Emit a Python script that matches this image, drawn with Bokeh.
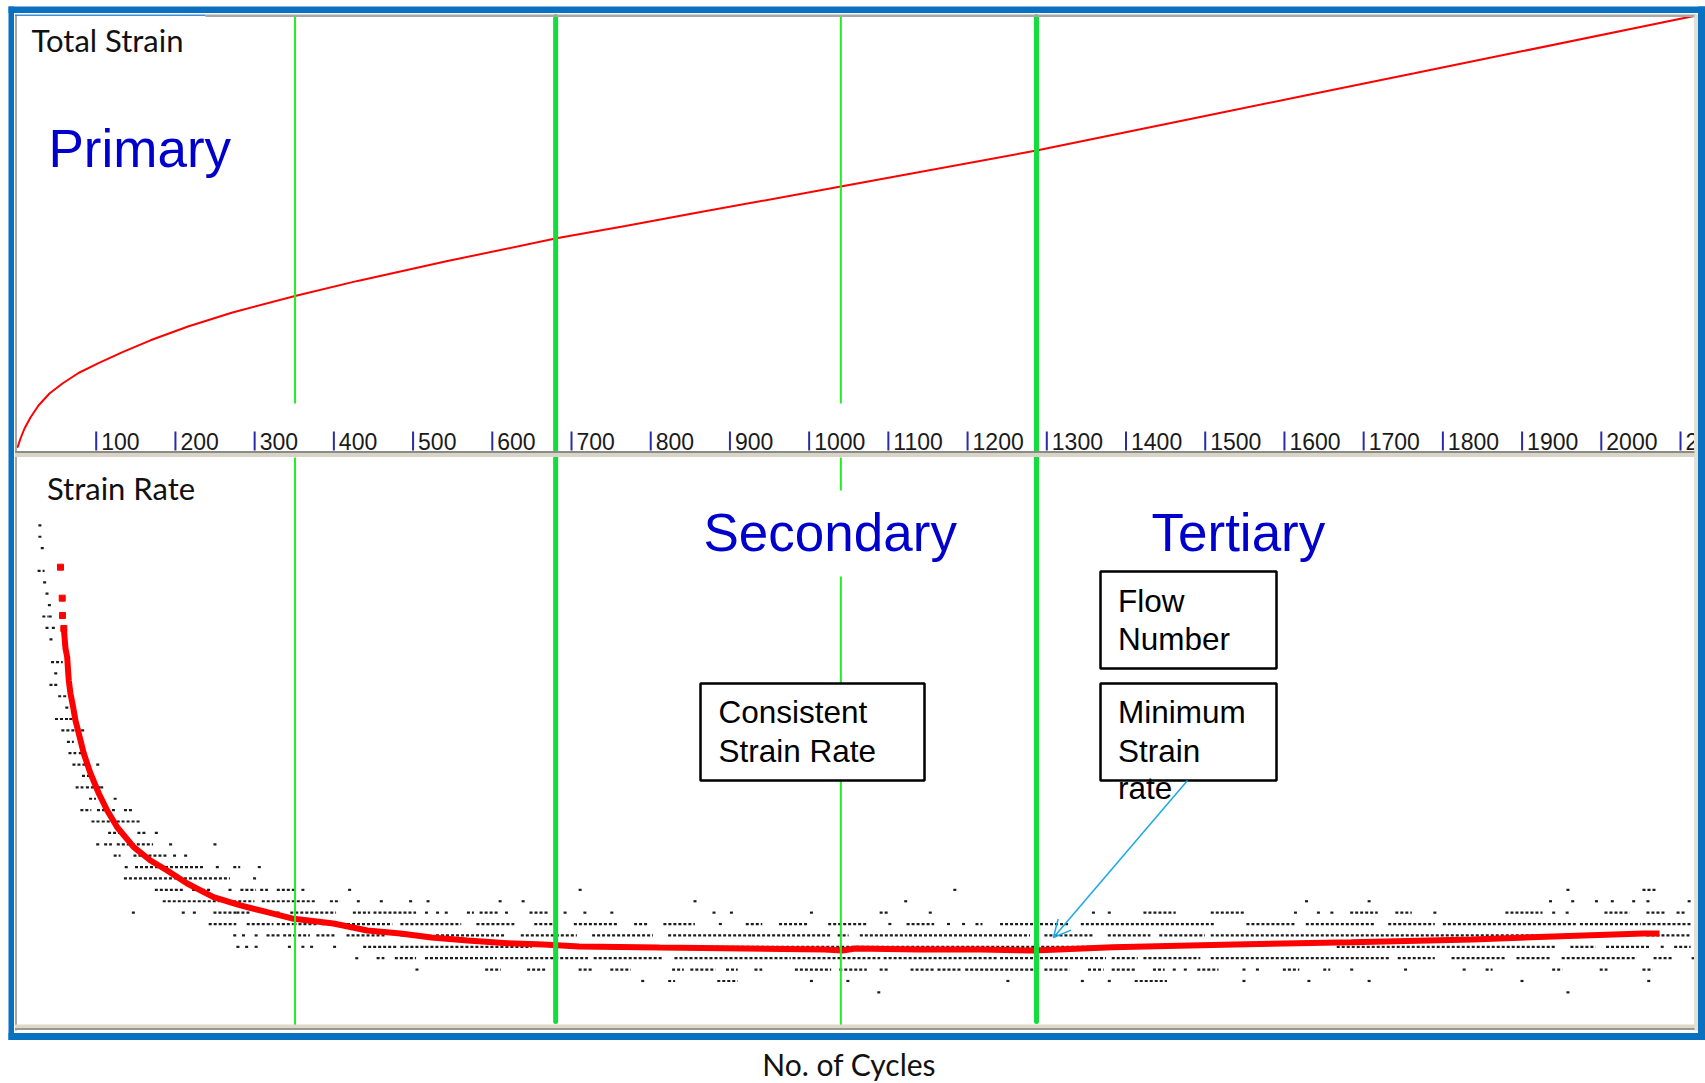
from bokeh.plotting import figure
from bokeh.models import Range1d, BoxAnnotation, Label, Arrow, OpenHead, FixedTicker
from bokeh.core.properties import value
from bokeh.embed import file_html
from bokeh.resources import INLINE

# ---------------- data ----------------
# Total strain (%) vs cycles (top panel)
strain_cycles = [0, 1.1, 4.4, 9.5, 17, 27.1, 41, 57.4, 77.6, 102.9, 133.2, 168.5, 215.9,
                 272, 351, 430, 542, 681, 768, 863, 1040, 1287, 1489, 1620, 1764, 1901,
                 2120]
strain_pct = [0.0, 0.005, 0.045, 0.095, 0.15, 0.21, 0.27, 0.32, 0.3725, 0.422, 0.477,
              0.536, 0.605, 0.675, 0.7575, 0.833, 0.931, 1.046, 1.108, 1.177, 1.305,
              1.485, 1.649, 1.755, 1.871, 1.982, 2.16]

# Smoothed strain rate vs cycles (bottom panel, red)
rate_cycles = [54.9, 57.1, 57.4, 59.1, 61.2, 63.4, 64.6, 65.4, 67.5, 70.9, 73.8, 78.0,
               84.3, 92.8, 103.3, 113.9, 126.5, 147.4, 168.5, 189.6, 214.9, 248.1,
               282.1, 315.9, 349.4, 399.5, 442.1, 484.1, 523.3, 568.7, 619.2, 664.7,
               709.6, 811.1, 1019.4, 1042.1, 1058.5, 1138.1, 1216.3, 1284.5, 1383.0,
               1537.0, 1684.7, 1837.4, 1911.4, 2053.3, 2073.5]
rate_values = [40.33, 37.61, 36.09, 34.95, 33.19, 32.42, 31.11, 30.38, 29.24, 28.04,
               26.87, 25.73, 23.97, 22.22, 20.46, 18.97, 17.50, 15.75, 14.58, 13.70,
               12.56, 11.36, 10.63, 10.04, 9.46, 9.05, 8.43, 8.17, 7.82, 7.55, 7.32,
               7.20, 7.03, 6.94, 6.76, 6.67, 6.85, 6.76, 6.76, 6.67, 6.97, 7.20, 7.40,
               7.64, 7.84, 8.17, 8.17]

# Raw strain-rate readings (black), as runs: (rate level, first cycle, last cycle)
black_runs = [
    (44, 27, 27), (43, 27, 27), (42, 30, 30), (40, 26, 31), (39, 33, 33), (38, 36, 36),
    (37, 39, 39), (36, 32, 36), (36, 40, 42), (35, 36, 36), (35, 44, 44), (34, 41, 41),
    (32, 43, 54), (31, 47, 47), (30, 41, 41), (30, 47, 47), (29, 52, 59), (28, 61, 61),
    (27, 48, 63), (27, 66, 66), (26, 56, 76), (26, 81, 81), (25, 63, 68),
    (24, 65, 71), (24, 78, 78), (24, 82, 82), (23, 70, 82), (23, 100, 100), (22, 82, 89),
    (21, 74, 80), (21, 87, 95), (21, 101, 101), (21, 105, 105), (20, 91, 96), (20, 122, 122),
    (19, 80, 90), (19, 101, 120), (19, 135, 143),
    (18, 94, 101), (18, 107, 127), (18, 132, 151),
    (17, 115, 130), (17, 152, 160), (17, 174, 174),
    (16, 100, 100), (16, 110, 116), (16, 126, 168), (16, 192, 192), (16, 248, 248),
    (15, 122, 127), (15, 147, 185), (15, 197, 197), (15, 211, 211),
    (14, 136, 136), (14, 149, 231), (14, 251, 251), (14, 273, 278), (14, 304, 304),
    (13, 135, 265), (13, 298, 298),
    (12, 174, 206), (12, 221, 240), (12, 267, 267), (12, 282, 298), (12, 307, 313),
    (12, 328, 349), (12, 359, 359), (12, 418, 418), (12, 709, 709), (12, 1182, 1182),
    (12, 1956, 1956), (12, 2052, 2066),
    (11, 184, 252), (11, 273, 296), (11, 309, 374), (11, 395, 404), (11, 429, 429),
    (11, 458, 458), (11, 495, 495), (11, 517, 517), (11, 608, 608), (11, 637, 637),
    (11, 854, 854), (11, 1120, 1120), (11, 1626, 1626), (11, 1705, 1705), (11, 1934, 1934),
    (11, 1962, 1962), (11, 1992, 1992), (11, 2012, 2012), (11, 2039, 2039), (11, 2057, 2057),
    (11, 2109, 2109),
    (10, 145, 145), (10, 208, 208), (10, 222, 222), (10, 248, 273), (10, 277, 290),
    (10, 315, 328), (10, 345, 399), (10, 424, 442), (10, 450, 500), (10, 515, 515),
    (10, 529, 529), (10, 540, 540), (10, 568, 573), (10, 584, 605), (10, 616, 616),
    (10, 647, 667), (10, 678, 678), (10, 690, 690), (10, 715, 715), (10, 749, 749),
    (10, 878, 878), (10, 900, 900), (10, 1001, 1001), (10, 1089, 1097), (10, 1151, 1151),
    (10, 1357, 1357), (10, 1377, 1377), (10, 1422, 1459), (10, 1507, 1547), (10, 1612, 1612),
    (10, 1641, 1641), (10, 1658, 1658), (10, 1683, 1714), (10, 1740, 1757), (10, 1788, 1788),
    (10, 1879, 1922), (10, 1938, 1938), (10, 1955, 1955), (10, 2004, 2032), (10, 2057, 2077),
    (10, 2095, 2103),
    (9, 242, 273), (9, 290, 320), (9, 328, 345), (9, 349, 376), (9, 385, 470), (9, 484, 557),
    (9, 580, 624), (9, 653, 678), (9, 703, 754), (9, 779, 793), (9, 816, 852), (9, 886, 886),
    (9, 920, 937), (9, 962, 996), (9, 1024, 1069), (9, 1100, 1100), (9, 1123, 1154),
    (9, 1174, 1174), (9, 1193, 1193), (9, 1210, 1215), (9, 1241, 1325), (9, 1343, 1507),
    (9, 1552, 1609), (9, 1627, 1711), (9, 1731, 1786), (9, 1800, 1964), (9, 1973, 2046),
    (9, 2052, 2109),
    (8, 273, 273), (8, 284, 284), (8, 300, 300), (8, 315, 328), (8, 336, 366), (8, 378, 399),
    (8, 416, 462), (8, 484, 500), (8, 529, 613), (8, 636, 703), (8, 726, 799), (8, 822, 923),
    (8, 928, 1024), (8, 1036, 1046), (8, 1064, 1120), (8, 1126, 1275), (8, 1297, 1354),
    (8, 1377, 1427), (8, 1442, 1496), (8, 1507, 1979), (8, 2057, 2109),
    (7, 277, 277), (7, 288, 288), (7, 300, 300), (7, 342, 342), (7, 359, 359), (7, 370, 370),
    (7, 399, 399), (7, 437, 475), (7, 484, 646), (7, 807, 1382), (7, 1400, 1400),
    (7, 1666, 1938), (7, 1961, 1989), (7, 2006, 2057), (7, 2075, 2075), (7, 2092, 2109),
    (6, 427, 427), (6, 454, 460), (6, 477, 500), (6, 515, 602), (6, 610, 717), (6, 728, 810),
    (6, 830, 973), (6, 979, 1086), (6, 1094, 1233), (6, 1241, 1371), (6, 1382, 1411),
    (6, 1422, 1490), (6, 1507, 1729), (6, 1743, 1786), (6, 1811, 1876), (6, 1893, 1933),
    (6, 1950, 2041), (6, 2066, 2086), (6, 2114, 2114),
    (5, 503, 503), (5, 591, 607), (5, 644, 664), (5, 709, 723), (5, 749, 771), (5, 827, 838),
    (5, 850, 878), (5, 895, 906), (5, 931, 937), (5, 982, 1024), (5, 1038, 1069),
    (5, 1089, 1097), (5, 1128, 1154), (5, 1162, 1188), (5, 1197, 1280), (5, 1297, 1325),
    (5, 1352, 1368), (5, 1382, 1408), (5, 1434, 1445), (5, 1459, 1459), (5, 1473, 1473),
    (5, 1490, 1513), (5, 1547, 1547), (5, 1564, 1564), (5, 1598, 1615), (5, 1649, 1654),
    (5, 1683, 1683), (5, 1751, 1751), (5, 1825, 1825), (5, 1854, 1859), (5, 1938, 1947),
    (5, 1998, 2004), (5, 2052, 2061),
    (4, 788, 788), (4, 822, 827), (4, 884, 906), (4, 1001, 1001), (4, 1047, 1047),
    (4, 1249, 1249), (4, 1343, 1343), (4, 1377, 1377), (4, 1411, 1448), (4, 1547, 1547),
    (4, 1629, 1629), (4, 1705, 1705), (4, 1898, 1898), (4, 2058, 2058),
    (3, 1086, 1086), (3, 1956, 1956),
]

tick_values = [100, 200, 300, 400, 500, 600, 700, 800, 900, 1000, 1100,
               1200, 1300, 1400, 1500, 1600, 1700, 1800, 1900, 2000, 2100]
tick_labels = [str(t) for t in tick_values]

thin_cycles = [351, 1040]     # thin green markers
thick_cycles = [680, 1287]    # thick green markers (phase boundaries)

# ---------------- pixel <-> data helpers (layout only) ----------------
X0, XS = 16.5, 0.79215        # px of cycle 0, px per cycle
R0, RS = 1026.04, 11.39       # px of rate 0, px per rate unit
S0, SS = 447.0, 200.0         # px of strain 0, px per strain %
FRAME_W, FRAME_H = 1705, 1042
BASE_SHIFT = 0.38             # baseline correction, fraction of font size


def cx(px):
    return (px - X0) / XS


def ry(py):
    return (R0 - py) / RS


def sy(py):
    return (S0 - py) / SS


p = figure(width=1705, height=1083, frame_width=FRAME_W, frame_height=FRAME_H,
           x_range=Range1d(cx(0), cx(FRAME_W)), y_range=Range1d(ry(FRAME_H), ry(0)),
           output_backend="svg", toolbar_location=None, y_axis_location=None,
           min_border_left=0, min_border_right=0, min_border_top=0, min_border_bottom=41)
p.extra_y_ranges = {"strain": Range1d(sy(FRAME_H), sy(0))}
p.grid.visible = False
p.outline_line_color = None
p.background_fill_color = "white"
p.border_fill_color = "white"

ax = p.xaxis[0]
ax.ticker = FixedTicker(ticks=[])
ax.axis_line_color = None
ax.major_tick_line_color = None
ax.minor_tick_line_color = None
ax.major_tick_out = 0
ax.minor_tick_out = 0
ax.major_label_standoff = 0
ax.axis_label = "No.  of Cycles"
ax.axis_label_text_font = "Lato"
ax.axis_label_text_font_size = "30px"
ax.axis_label_text_font_style = "normal"
ax.axis_label_text_color = "#111111"
ax.axis_label_standoff = 3

# ---------------- glyphs ----------------
DOT_W = 3.0 / XS
dot_level = [r[0] for r in black_runs]
dot_from = [r[1] for r in black_runs]
dot_to = [r[2] + DOT_W for r in black_runs]
p.segment(x0=dot_from, x1=dot_to, y0=dot_level, y1=dot_level, line_color="#1c1c1c",
          line_width=2.2, line_dash="3 2", line_cap="butt")

p.scatter(rate_cycles[:4], rate_values[:4], marker="square", size=6,
          fill_color="#FF0000", line_color="#FF0000")
p.line(rate_cycles[3:], rate_values[3:], line_color="#FF0000", line_width=6)

p.line(strain_cycles, strain_pct, y_range_name="strain", line_color="#FF0000", line_width=2)

# thin green markers (interrupted by the tick-label band and the "Secondary" title)
thin_x = [thin_cycles[0]] * 2 + [thin_cycles[1]] * 3
thin_top = [ry(v) for v in (16, 457, 16, 457, 576)]
thin_bot = [ry(v) for v in (403, 1025, 403, 490, 1025)]
p.segment(x0=thin_x, x1=thin_x, y0=thin_top, y1=thin_bot, line_color="#22EE22", line_width=2)

# custom tick marks and labels along the bottom of the top panel
TICK_FS = 23
p.segment(x0=tick_values, x1=tick_values, y0=[ry(450)] * len(tick_values),
          y1=[ry(431)] * len(tick_values), line_color="#2A2AAA", line_width=2)
p.text(x=tick_values, y=[ry(450 - BASE_SHIFT * TICK_FS)] * len(tick_values),
       text=tick_labels, x_offset=5,
       text_font=value("Liberation Sans"), text_font_size=f"{TICK_FS}px",
       text_color="#1a1a1a", text_baseline="alphabetic", text_align="left")

p.segment(x0=thick_cycles, x1=thick_cycles, y0=[ry(16)] * 2, y1=[ry(1021)] * 2,
          line_color="#14DC3C", line_width=5, line_cap="round")


# ---------------- frame decorations ----------------
def band(l, r, t, b, color):
    p.add_layout(BoxAnnotation(left=cx(l), right=cx(r), top=ry(t), bottom=ry(b),
                               fill_color=color, fill_alpha=1.0, line_color=None))


band(1693.5, 1697.5, 14, 1030, "#E4E1D4")     # right light strip
band(14.5, 16.5, 14, 1030, "#A7A7A7")         # left inner line
band(205, 1694, 14, 16.5, "#A7A7A7")          # top inner line
band(14.5, 205, 14, 15.5, "#3F8FD8")
band(14.5, 1694, 450.5, 456.5, "#D8D4C6")     # separator between panels
band(14.5, 1694, 450.5, 452.5, "#8A8A8A")
band(14.5, 1694, 1024, 1029.5, "#DCD8CA")     # bottom panel edge
band(14.5, 1694, 1027.5, 1029.5, "#9A978C")
band(8, 13.5, 6, 1039.5, "#0A70C0")           # outer blue frame
band(1697.5, 1705, 6, 1039.5, "#0A70C0")
band(8, 1705, 6, 12.5, "#0A70C0")
band(8, 1705, 1032.5, 1039.5, "#0A70C0")


# ---------------- boxes, arrow, texts ----------------
def box(l, r, t, b):
    p.add_layout(BoxAnnotation(left=cx(l), right=cx(r), top=ry(t), bottom=ry(b),
                               fill_color="white", fill_alpha=1.0, line_color="black",
                               line_alpha=1.0, line_width=2.5))


box(700, 924, 683, 780)
box(1100, 1276, 571, 668)
box(1100, 1276, 683, 780)

p.add_layout(Arrow(end=OpenHead(size=17, line_color="#1AA8E8", line_width=1.5),
                   x_start=cx(1187), y_start=ry(780), x_end=cx(1053), y_end=ry(937),
                   line_color="#1AA8E8", line_width=1.5))


def label(text, px, py, font, size, color):
    p.add_layout(Label(x=cx(px), y=ry(py - BASE_SHIFT * size), text=text, text_font=font,
                       text_font_size=f"{size}px", text_color=color,
                       text_baseline="alphabetic", text_align="left"))


label("Total Strain", 31, 51.5, "Lato", 31, "#111111")
label("Strain Rate", 46.5, 499, "Lato", 31, "#111111")
label("Primary", 48, 168, "Liberation Sans", 53, "#0000CC")
label("Secondary", 703, 552, "Liberation Sans", 53, "#0000CC")
label("Tertiary", 1151, 552, "Liberation Sans", 53, "#0000CC")
label("Consistent", 718, 723.5, "Liberation Sans", 31.5, "black")
label("Strain Rate", 718, 762, "Liberation Sans", 31.5, "black")
label("Flow", 1117.5, 612, "Liberation Sans", 31.5, "black")
label("Number", 1117.5, 650, "Liberation Sans", 31.5, "black")
label("Minimum", 1117.5, 723.5, "Liberation Sans", 31.5, "black")
label("Strain", 1117.5, 762, "Liberation Sans", 31.5, "black")
label("rate", 1117.5, 799, "Liberation Sans", 31.5, "black")

open("out.html", "w").write(file_html(p, INLINE))
